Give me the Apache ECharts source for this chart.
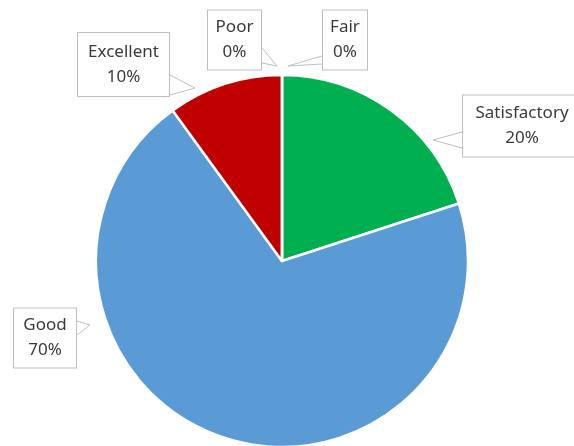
<!DOCTYPE html>
<html>
<head>
<meta charset="utf-8">
<style>
  html, body { margin: 0; padding: 0; background: #fff; }
  #chart { width: 574px; height: 446px; }
</style>
<script src="https://cdn.jsdelivr.net/npm/echarts@6/dist/echarts.min.js"></script>
</head>
<body>
<div id="chart"></div>
<script>
// Rating categories, clockwise from 12 o'clock
const categories = ['Fair', 'Satisfactory', 'Good', 'Excellent', 'Poor'];
// Share of responses (%)
const shares = [0, 20, 70, 10, 0];
const sliceColors = ['#A5A5A5', '#00B050', '#5B9BD5', '#C00000', '#ED7D31'];

// Callout boxes: centre, content width, vertical padding, and pointer wedge (base A, tip, base B)
const callouts = [
  { cx: 345,   cy: 40,   w: 44,  pv: 4.5, a: [322, 56],  tip: [288, 66], b: [322, 64] },
  { cx: 522,   cy: 126,  w: 118, pv: 5.5, a: [462, 132], tip: [433, 140], b: [462, 148] },
  { cx: 45,    cy: 338,  w: 62,  pv: 4.5, a: [77, 321],  tip: [90, 325],  b: [77, 335] },
  { cx: 123.5, cy: 64.5, w: 91,  pv: 6.5, a: [170, 75],  tip: [195, 88],  b: [163, 97] },
  { cx: 234.5, cy: 40,   w: 53,  pv: 4.5, a: [262, 48],  tip: [277, 66], b: [262, 63] }
];

const chart = echarts.init(document.getElementById('chart'), null, { renderer: 'canvas' });

chart.setOption({
  backgroundColor: '#ffffff',
  animation: false,
  series: [{
    type: 'pie',
    center: [282, 261],
    radius: 186,
    startAngle: 90,
    clockwise: true,
    avoidLabelOverlap: false,
    minShowLabelAngle: 0,
    emphasis: { disabled: true },
    itemStyle: { borderColor: '#ffffff', borderWidth: 2.5 },
    data: categories.map((name, i) => ({
      name: name,
      value: shares[i],
      itemStyle: { color: sliceColors[i] },
      label: {
        width: callouts[i].w,
        padding: [callouts[i].pv, 0]
      }
    })),
    label: {
      show: true,
      position: 'outside',
      formatter: p => p.name + '\n' + p.value + '%',
      fontFamily: 'Noto Sans',
      fontSize: 17,
      lineHeight: 25,
      color: '#3a3a3a',
      align: 'center',
      backgroundColor: '#ffffff',
      borderColor: '#bfbfbf',
      borderWidth: 1
    },
    labelLine: {
      show: true,
      lineStyle: { color: '#bfbfbf', width: 1 }
    },
    labelLayout: function (params) {
      const c = callouts[params.dataIndex];
      return {
        x: c.cx,
        y: c.cy,
        align: 'center',
        verticalAlign: 'middle',
        labelLinePoints: [c.a, c.tip, c.b]
      };
    }
  }]
});
</script>
</body>
</html>
